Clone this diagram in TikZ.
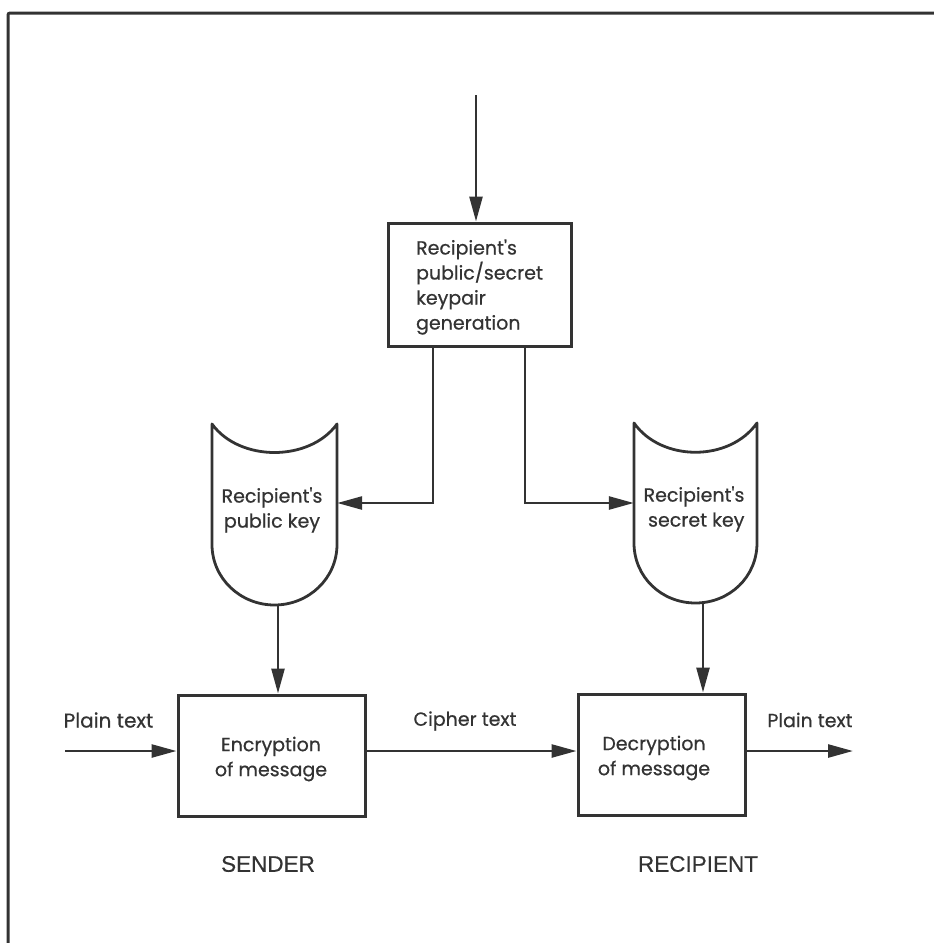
\documentclass[tikz,border=0pt]{standalone}
\usepackage{fontspec}
\setmainfont{Poppins}
\newfontfamily\capsfont{Liberation Sans}[FakeBold=0.4]
\newfontfamily\diagfont{Poppins}[FakeBold=0.6]
\usetikzlibrary{arrows.meta,calc}
\definecolor{ink}{HTML}{333333}
\begin{document}
\begin{tikzpicture}[x=1pt,y=-1pt,
  every node/.style={text=ink, font=\diagfont\fontsize{19}{25}\selectfont, inner sep=0pt},
  procbox/.style={draw=ink, line width=3pt},
  keyholder/.style={minimum width=#1, minimum height=180pt},
  keyline/.style={draw=ink, line width=2.8pt, line join=round},
  flow/.style={draw=ink, line width=2.6pt, -{Triangle[length=25pt,width=13pt]}},
  side/.style={font=\capsfont\fontsize{22.5}{26}\selectfont},
  frame/.style={draw=ink, line width=3pt, rounded corners=2pt}
]
\useasboundingbox (0,0) rectangle (934,943);

% outer frame
\draw[frame] (8,943) -- (8,13) -- (934,13);

% key-pair generation
\node[procbox, minimum width=183pt, minimum height=123pt] (gen) at (479.5,284.5) {};
\node[align=left] (gentxt) at (479.5,287) {Recipient's\\public/secret\\keypair\\generation};
\coordinate (src) at (476,95);
\draw[flow] (src) -- (src |- gen.north);

% key stores (shield-like containers)
\node[keyholder=125pt] (pub) at (274.5,514.5) {};
\node[keyholder=123pt] (sec) at (695.5,513) {};
\draw[keyline, shift={(pub.center)}]
  (-62.5,-90.5) .. controls (-35,-52.5) and (35,-52.5) .. (62.5,-90.5)
  -- (62.5,30) .. controls (62.5,64) and (34,90.5) .. (0,90.5)
  .. controls (-34,90.5) and (-62.5,64) .. (-62.5,30) -- cycle;
\draw[keyline, shift={(sec.center)}]
  (-61.5,-90) .. controls (-34,-51) and (34,-51) .. (61.5,-90)
  -- (61.5,30) .. controls (61.5,64) and (34,90) .. (0,90)
  .. controls (-34,90) and (-61.5,64) .. (-61.5,30) -- cycle;
\node[align=center] (pubtxt) at (272,510) {Recipient's\\public key};
\node[align=right] (sectxt) at (694,509) {Recipient's\\secret key};

% generation feeds both key stores
\draw[flow] ([xshift=-46.5pt]gen.south) |- ([yshift=11.5pt]pub.east);
\draw[flow] ([xshift=45.5pt]gen.south) |- ([yshift=10pt]sec.west);

% encryption and decryption
\node[procbox, minimum width=187pt, minimum height=121pt] (enc) at (271.5,755.5) {};
\node[align=center] (enctxt) at (271,759) {Encryption\\of message};
\node[procbox, minimum width=167pt, minimum height=121pt] (dec) at (661.5,754.5) {};
\node[align=center] (dectxt) at (654,758) {Decryption\\of message};

\draw[flow] ([xshift=3.5pt]pub.south) -- ([xshift=3.5pt]pub.south |- enc.north);
\draw[flow] ([xshift=7.5pt]sec.south) -- ([xshift=7.5pt]sec.south |- dec.north);

% message path
\coordinate (in) at (65,751);
\coordinate (out) at (853,751);
\draw[flow] (in) -- (in -| enc.west);
\draw[flow] (enc.east |- in) -- (dec.west |- in);
\draw[flow] (dec.east |- in) -- (out);
\node[font=\diagfont\fontsize{20}{25}\selectfont] (plainin) at (108.5,720) {Plain text};
\node (cipher) at (465,721) {Cipher text};
\node (plainout) at (810,720) {Plain text};

% parties
\node[side] (sender) at (268,864) {SENDER};
\node[side] (recipient) at (698,864) {RECIPIENT};
\end{tikzpicture}
\end{document}
